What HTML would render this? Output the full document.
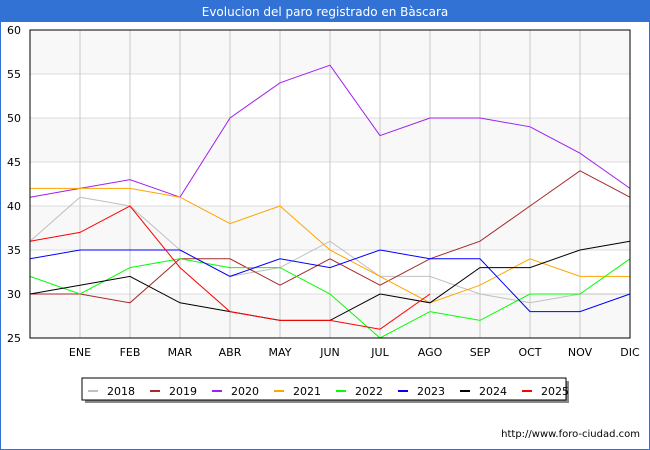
<!DOCTYPE html>
<html><head><meta charset="utf-8"><style>
body{margin:0;background:#fff;font-family:"Liberation Sans","DejaVu Sans",sans-serif}
#wrap{position:relative;width:650px;height:450px;overflow:hidden}
</style></head><body>
<div id="wrap">
<svg id="chart" width="650" height="450" xmlns="http://www.w3.org/2000/svg" font-family="'DejaVu Sans','Liberation Sans',sans-serif">
<rect x="0" y="0" width="650" height="450" fill="#fff" stroke="#3272d4" stroke-width="2"/>
<rect x="0" y="0" width="650" height="22" fill="#3272d4"/>
<text x="325" y="16" text-anchor="middle" fill="#fff" font-size="12">Evolucion del paro registrado en Bàscara</text>
<g id="grid"></g>
<g id="series"></g>
<rect x="30" y="30" width="600" height="308" fill="none" stroke="#000" stroke-width="1"/>
<g id="legend"></g>
<text x="640" y="437" text-anchor="end" font-size="10" fill="#000">http://www.foro-ciudad.com</text>
</svg>
</div>
<script>
const months = ["", "ENE","FEB","MAR","ABR","MAY","JUN","JUL","AGO","SEP","OCT","NOV","DIC"];
const yTicks = [25,30,35,40,45,50,55,60];
const seriesNames = ["2018","2019","2020","2021","2022","2023","2024","2025"];
const colors = ["#c0c0c0","#a52a2a","#a020f0","#ffa500","#00ff00","#0000ff","#000000","#ff0000"];
const s2018 = [36,41,40,35,32,33,36,32,32,30,29,30,30];
const s2019 = [30,30,29,34,34,31,34,31,34,36,40,44,41];
const s2020 = [41,42,43,41,50,54,56,48,50,50,49,46,42];
const s2021 = [42,42,42,41,38,40,35,32,29,31,34,32,32];
const s2022 = [32,30,33,34,33,33,30,25,28,27,30,30,34];
const s2023 = [34,35,35,35,32,34,33,35,34,34,28,28,30];
const s2024 = [30,31,32,29,28,27,27,30,29,33,33,35,36];
const s2025 = [36,37,40,33,28,27,27,26,30];
const allSeries = [s2018,s2019,s2020,s2021,s2022,s2023,s2024,s2025];

const NS="http://www.w3.org/2000/svg";
const X0=30,X1=630,Y0=338,Y1=30,YMIN=25,YMAX=60;
const xs=i=>X0+i*(X1-X0)/(months.length-1);
const ys=v=>Y0-(v-YMIN)*(Y0-Y1)/(YMAX-YMIN);
function mk(t,a,p){const e=document.createElementNS(NS,t);for(const k in a)e.setAttribute(k,a[k]);p.appendChild(e);return e;}
const grid=document.getElementById('grid');
for(let i=0;i<yTicks.length-1;i++){
  if(i%2===0){const b=mk('rect',{x:X0,y:ys(yTicks[i+1]),width:X1-X0,height:ys(yTicks[i])-ys(yTicks[i+1]),fill:'#f8f8f8'},grid);
  
  }
}
yTicks.forEach(v=>{
  const l=mk('line',{x1:X0,x2:X1,y1:ys(v),y2:ys(v),stroke:'#dcdcdc'},grid);
  
  
  const t=mk('text',{x:21,y:ys(v)+4,'text-anchor':'end','font-size':11,fill:'#000'},grid);
  t.textContent=v;
  
  
});
months.forEach((m,i)=>{
  if(i===0)return;
  const l=mk('line',{x1:xs(i),x2:xs(i),y1:Y1,y2:Y0,stroke:'#c8c8c8'},grid);
  
  
  const t=mk('text',{x:xs(i),y:356,'text-anchor':'middle','font-size':11,fill:'#000'},grid);
  t.textContent=m;
  
  
});
const sg=document.getElementById('series');
allSeries.forEach((s,k)=>{
  const p=mk('polyline',{points:s.map((v,i)=>xs(i)+','+ys(v)).join(' '),fill:'none',stroke:colors[k],'stroke-width':1},sg);
  
  
});
const lg=document.getElementById('legend');
mk('rect',{x:85,y:381,width:484,height:22,fill:'#888'},lg);
const box=mk('rect',{x:82,y:378,width:484,height:22,fill:'#fff',stroke:'#000'},lg);


seriesNames.forEach((n,k)=>{
  const x=88+k*62;
  const l=mk('line',{x1:x,x2:x+10,y1:391,y2:391,stroke:colors[k],'stroke-width':2},lg);
  
  
  const t=mk('text',{x:x+19,y:395,'font-size':11,fill:'#000'},lg);
  t.textContent=n;
  
  
});
</script>
</body></html>
